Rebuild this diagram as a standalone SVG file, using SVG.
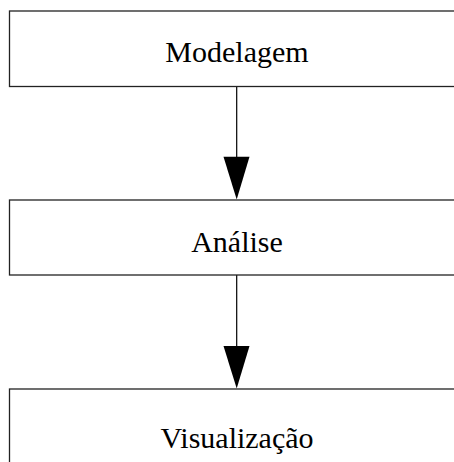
<svg xmlns="http://www.w3.org/2000/svg" width="454" height="462" viewBox="0 0 454 462">
  <style>
    .box { fill: #ffffff; stroke: #222222; stroke-width: 1.3; }
    .label { font-family: "Liberation Serif", "Times New Roman", serif; font-size: 30px; fill: #000000; text-anchor: middle; }
    .edge { stroke: #000000; stroke-width: 1.2; fill: none; }
    .head { fill: #000000; stroke: none; }
  </style>
  <rect width="454" height="462" fill="#ffffff"/>
  <g id="connectors">
    <line class="edge" x1="236.7" y1="87" x2="236.7" y2="158"/>
    <polygon class="head" points="223.5,156.7 249.5,156.7 236.7,199.5"/>
    <line class="edge" x1="236.7" y1="275" x2="236.7" y2="347"/>
    <polygon class="head" points="223.5,346 249.5,346 236.7,388.5"/>
  </g>
  <g id="modelagem">
    <rect class="box" x="9.5" y="11" width="460" height="75.5"/>
    <text class="label" x="237" y="62">Modelagem</text>
  </g>
  <g id="analise">
    <rect class="box" x="9.5" y="200" width="460" height="75"/>
    <text class="label" x="237" y="251.5">Análise</text>
  </g>
  <g id="visualizacao">
    <rect class="box" x="9.5" y="389" width="460" height="90"/>
    <text class="label" x="237" y="448">Visualização</text>
  </g>
</svg>
